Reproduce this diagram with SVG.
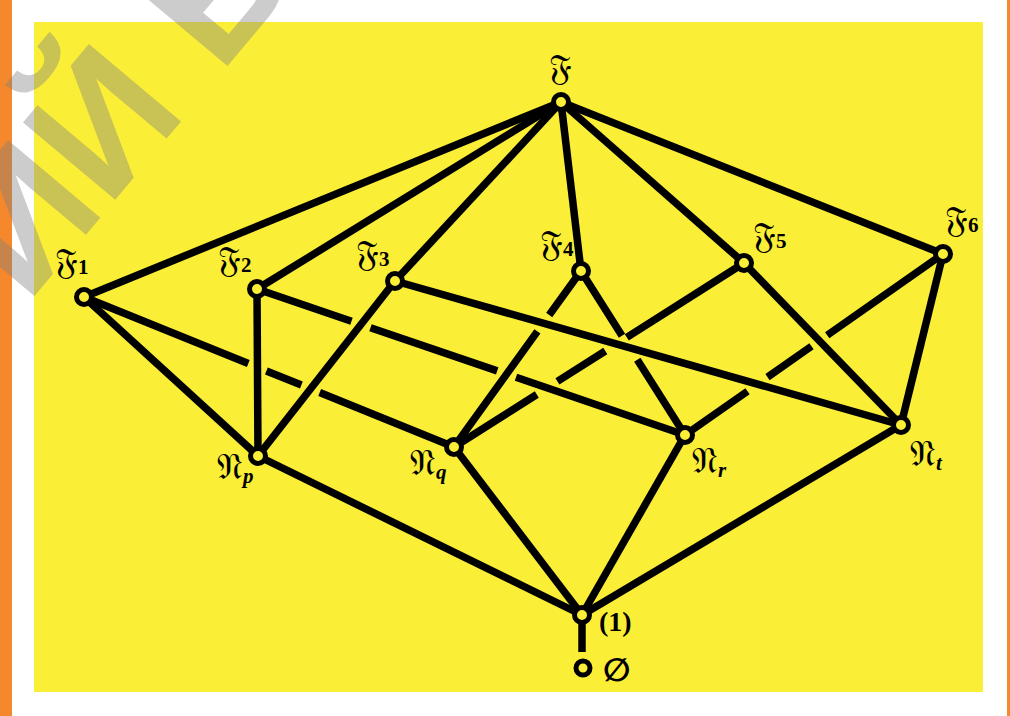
<svg xmlns="http://www.w3.org/2000/svg" width="1010" height="716" viewBox="0 0 1010 716">
<style>
.edge{fill:none;stroke:#000;stroke-width:7.5;stroke-linecap:butt}
.node{fill:#FAEE37;stroke:#000;stroke-width:5}
.lbl{font-family:"DejaVu Serif","DejaVu Sans",serif;font-size:36px;fill:#000}
.sub{font-family:"Liberation Serif",serif;font-size:21px;font-weight:bold}
.isub{font-family:"Liberation Serif",serif;font-size:21px;font-style:italic;font-weight:bold}
.txt{font-family:"Liberation Serif","DejaVu Serif",serif;font-size:28px;font-weight:bold;fill:#000}
</style>
<rect x="0" y="0" width="1010" height="716" fill="#FFFFFF"/>
<rect x="0" y="0" width="12" height="716" fill="#F5882C"/>
<rect x="1007" y="0" width="3" height="716" fill="#F5882C"/>
<rect x="34" y="22" width="949" height="670" fill="#FAEE37"/>
<g id="connectors">
<path class="edge" d="M561,102 L84,297"/>
<path class="edge" d="M561,102 L257,289"/>
<path class="edge" d="M561,102 L395,281"/>
<path class="edge" d="M561,102 L581,271"/>
<path class="edge" d="M561,102 L744,263"/>
<path class="edge" d="M561,102 L943,254"/>
<path class="edge" d="M84,297 L258,456"/>
<path class="edge" d="M84,297 L248.3,363.6 M266.4,371.0 L301.4,385.1 M319.7,392.6 L454,447"/>
<path class="edge" d="M257,289 L258,456"/>
<path class="edge" d="M257,289 L351.5,321.2 M370.5,327.7 L497.2,370.9 M516.0,377.3 L685,435"/>
<path class="edge" d="M395,281 L258,456"/>
<path class="edge" d="M395,281 L901,425"/>
<path class="edge" d="M581,271 L549.2,315.0 M537.4,331.4 L454,447"/>
<path class="edge" d="M581,271 L622.0,335.7 M637.3,359.8 L685,435"/>
<path class="edge" d="M744,263 L626.8,337.4 M605.3,351.0 L557.4,381.4 M536.8,394.5 L454,447"/>
<path class="edge" d="M744,263 L901,425"/>
<path class="edge" d="M943,254 L827.2,335.2 M811.5,346.3 L767.5,377.1 M747.5,391.2 L685,435"/>
<path class="edge" d="M943,254 L901,425"/>
<path class="edge" d="M258,456 L582,615"/>
<path class="edge" d="M454,447 L582,615"/>
<path class="edge" d="M685,435 L582,615"/>
<path class="edge" d="M901,425 L582,615"/>
<path class="edge" d="M582,622 L582,652"/>
</g>
<g id="F"><circle class="node" cx="561" cy="102" r="7.5"/><text class="lbl" x="560" y="80" text-anchor="middle">𝔉</text></g>
<g id="F1"><circle class="node" cx="84" cy="297" r="7.5"/><text class="lbl" x="55" y="274">𝔉<tspan class="sub">1</tspan></text></g>
<g id="F2"><circle class="node" cx="257" cy="289" r="7.5"/><text class="lbl" x="218" y="272">𝔉<tspan class="sub">2</tspan></text></g>
<g id="F3"><circle class="node" cx="395" cy="281" r="7.5"/><text class="lbl" x="356" y="266">𝔉<tspan class="sub">3</tspan></text></g>
<g id="F4"><circle class="node" cx="581" cy="271" r="7.5"/><text class="lbl" x="540" y="256">𝔉<tspan class="sub">4</tspan></text></g>
<g id="F5"><circle class="node" cx="744" cy="263" r="7.5"/><text class="lbl" x="753" y="248">𝔉<tspan class="sub">5</tspan></text></g>
<g id="F6"><circle class="node" cx="943" cy="254" r="7.5"/><text class="lbl" x="945" y="232">𝔉<tspan class="sub">6</tspan></text></g>
<g id="Np"><circle class="node" cx="258" cy="456" r="7.5"/><text class="lbl" x="217" y="479">𝔑<tspan class="isub" dy="4">p</tspan></text></g>
<g id="Nq"><circle class="node" cx="454" cy="447" r="7.5"/><text class="lbl" x="410" y="475">𝔑<tspan class="isub" dy="4">q</tspan></text></g>
<g id="Nr"><circle class="node" cx="685" cy="435" r="7.5"/><text class="lbl" x="692" y="473">𝔑<tspan class="isub" dy="4">r</tspan></text></g>
<g id="Nt"><circle class="node" cx="901" cy="425" r="7.5"/><text class="lbl" x="910" y="466">𝔑<tspan class="isub" dy="4">t</tspan></text></g>
<g id="One"><circle class="node" cx="582" cy="615" r="7.5"/><text class="txt" x="599" y="631">(1)</text></g>
<g id="Empty"><circle class="node" cx="583" cy="668" r="7"/><text class="txt" x="603" y="681" style="font-family:'DejaVu Sans',sans-serif;font-size:32px;font-weight:bold">∅</text></g>
<text transform="translate(27,305) rotate(-50)" font-family="Liberation Sans, sans-serif" font-size="175" font-weight="bold" fill="#7F7F7F" fill-opacity="0.4">ИЙ Б</text>
</svg>
